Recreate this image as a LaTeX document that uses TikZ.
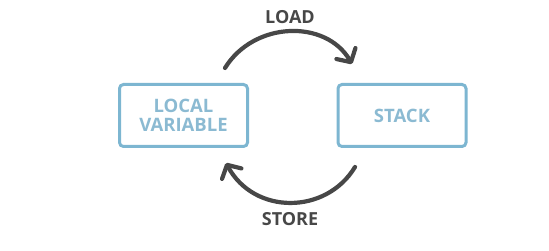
\documentclass[tikz,border=0pt]{standalone}
\usepackage{fontspec}
\setmainfont{Open Sans}
\usetikzlibrary{arrows.meta}
\definecolor{boxblue}{HTML}{7DB6D1}
\definecolor{textblue}{HTML}{8BBAD2}
\definecolor{arrowgrey}{HTML}{474747}
\begin{document}
\begin{tikzpicture}[x=1pt,y=1pt,
  varbox/.style={draw=boxblue, line width=3pt, rounded corners=4pt,
    minimum width=128pt, minimum height=62pt, align=center,
    text=textblue, font=\fontsize{18.5}{19.5}\selectfont\bfseries, inner sep=0pt},
  oplabel/.style={text=arrowgrey, font=\fontsize{18}{20}\selectfont\bfseries},
  flow/.style={draw=arrowgrey, line width=4.2pt, line cap=round,
    -{Straight Barb[length=10pt,width=22pt,line width=4.2pt,round]}}]
  \useasboundingbox (0,0) rectangle (549,251);
  % the two storage places
  \node[varbox] (local) at (183.5,135.5) {LOCAL\\VARIABLE};
  \node[varbox] (stack) at (402,135.5) {STACK};
  % operation labels
  \node[oplabel] (load) at (290,234) {LOAD};
  \node[oplabel] (store) at (290,32) {STORE};
  % arrow end points
  \coordinate (loadS) at (225,183);
  \coordinate (loadE) at (352,187);
  \coordinate (storeS) at (355,84);
  \coordinate (storeE) at (226,88);
  % load: local variable -> stack
  \draw[flow] (loadS) .. controls (254,230) and (326,232) .. (loadE);
  % store: stack -> local variable
  \draw[flow] (storeS) .. controls (326,36) and (254,36) .. (storeE);
\end{tikzpicture}
\end{document}
